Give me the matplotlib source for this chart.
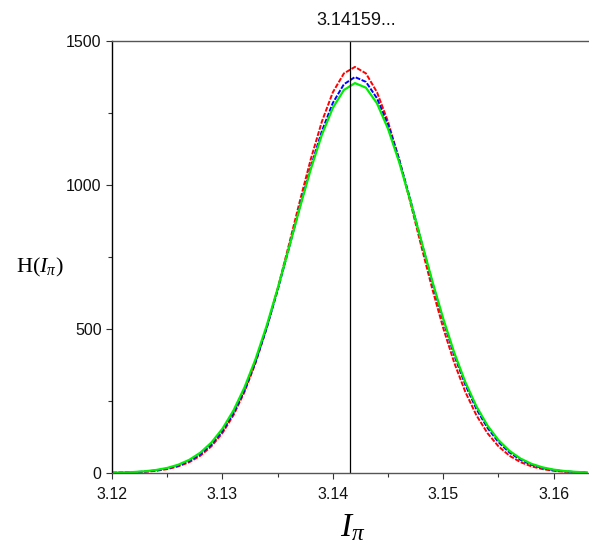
import matplotlib
matplotlib.use('Agg')
import matplotlib.pyplot as plt
from matplotlib.ticker import MultipleLocator

plt.rcParams.update({
    'font.family': ['Liberation Sans', 'DejaVu Sans'],
    'mathtext.fontset': 'custom',
    'mathtext.rm': 'Liberation Serif',
    'mathtext.it': 'Liberation Serif:italic',
})

# valores
x = [3.120, 3.121, 3.122, 3.123, 3.124, 3.125, 3.126, 3.127, 3.128, 3.129,
     3.130, 3.131, 3.132, 3.133, 3.134, 3.135, 3.136, 3.137, 3.138, 3.139,
     3.140, 3.141, 3.142, 3.143, 3.144, 3.145, 3.146, 3.147, 3.148, 3.149,
     3.150, 3.151, 3.152, 3.153, 3.154, 3.155, 3.156, 3.157, 3.158, 3.159,
     3.160, 3.161, 3.162, 3.163]

h_rojo = [0.6, 1.2, 2.2, 4.2, 7.6, 13.4, 22.8, 37.5, 59.9, 92.5,
          138.5, 200.6, 281.4, 382.2, 502.7, 640.1, 789.3, 942.4, 1089.5, 1219.6,
          1322.0, 1387.4, 1410.0, 1387.4, 1322.0, 1219.6, 1089.5, 942.4, 789.3, 640.1,
          502.7, 382.2, 281.4, 200.6, 138.5, 92.5, 59.9, 37.5, 22.8, 13.4,
          7.6, 4.2, 2.2, 1.2]

h_azul = [0.8, 1.5, 2.8, 5.1, 9.0, 15.5, 25.8, 41.6, 65.2, 98.9,
          145.6, 207.9, 287.7, 386.2, 502.7, 634.7, 777.2, 922.8, 1062.5, 1186.6,
          1285.1, 1349.7, 1374.8, 1358.0, 1300.9, 1208.6, 1089.0, 951.5, 806.3, 662.6,
          528.0, 408.1, 305.9, 222.3, 156.8, 107.2, 71.0, 45.7, 28.5, 17.2,
          10.1, 5.7, 3.2, 1.7]

h_verde = [1.0, 1.8, 3.3, 6.0, 10.4, 17.5, 28.7, 45.7, 70.5, 105.6,
           153.7, 216.9, 297.3, 395.4, 510.6, 640.0, 778.8, 919.9, 1054.8, 1173.8,
           1268.2, 1329.9, 1353.8, 1337.8, 1283.3, 1194.9, 1080.1, 947.7, 807.1, 667.3,
           535.5, 417.2, 315.5, 231.5, 165.1, 114.1, 76.7, 50.0, 31.6, 19.4,
           11.6, 6.7, 3.8, 2.0]

valor_pi = 3.14159

fig = plt.figure(figsize=(5.89, 5.51), dpi=100)
ax = fig.add_axes([0.1902, 0.1416, 0.8098, 0.784])

ax.plot(x, h_rojo, color='#ff0000', lw=1.4, ls=(0, (2.5, 0.8)))
ax.plot(x, h_azul, color='#0000ff', lw=1.4, ls=(0, (2.5, 0.8)))
ax.plot(x, h_verde, color='#00ee00', lw=1.6)

ax.axvline(valor_pi, color='black', lw=0.9)
ax.text(valor_pi + 0.0005, 1.028, '3.14159...', transform=ax.get_xaxis_transform(),
        ha='center', va='bottom', fontsize=13, color='#111111')

ax.set_xlim(3.12, 3.1632)
ax.set_ylim(0, 1500)
ax.xaxis.set_major_locator(MultipleLocator(0.01))
ax.xaxis.set_minor_locator(MultipleLocator(0.005))
ax.yaxis.set_major_locator(MultipleLocator(500))
ax.yaxis.set_minor_locator(MultipleLocator(250))
ax.xaxis.set_major_formatter(plt.FuncFormatter(lambda v, p: f'{v:.2f}'))

ax.spines['right'].set_visible(False)
ax.spines['left'].set_color('black')
ax.spines['bottom'].set_color('#555555')
ax.spines['top'].set_color('#555555')
for s in ax.spines.values():
    s.set_linewidth(1.0)

ax.tick_params(which='major', direction='out', length=4, width=0.8,
               labelsize=11.5, colors='#333333', labelcolor='#111111')
ax.tick_params(which='minor', direction='out', length=3, width=0.8, colors='#333333')
ax.tick_params(axis='x', pad=6)
ax.tick_params(top=False, right=False, which='both')

fig.text(40 / 589, 1 - 267 / 551, r'$\mathrm{H}(I_\pi)$', fontsize=16,
         ha='center', va='center')
fig.text(353 / 589, 1 - 528 / 551, r'$I_\pi$', fontsize=24,
         ha='center', va='center')

fig.savefig('out.png', dpi=100, facecolor='white')
